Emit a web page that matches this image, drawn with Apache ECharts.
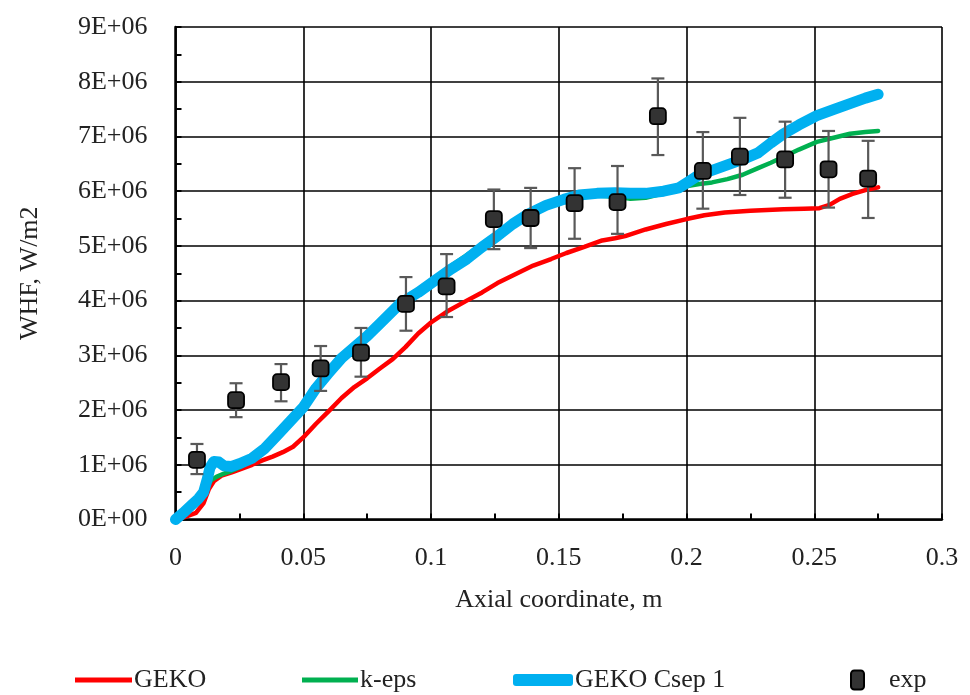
<!DOCTYPE html>
<html>
<head>
<meta charset="utf-8">
<script src="https://cdn.jsdelivr.net/npm/echarts@6/dist/echarts.min.js"></script>
<style>html,body{margin:0;padding:0;background:#fff;}#c{width:970px;height:695px;}</style>
</head>
<body>
<div id="c"></div>
<script>
// ---- data (y values in units of 1E+06 W/m2) ----
const xTickLabels = ['0','0.05','0.1','0.15','0.2','0.25','0.3'];
const yTickLabels = ['0E+00','1E+06','2E+06','3E+06','4E+06','5E+06','6E+06','7E+06','8E+06','9E+06'];
const seriesNames = ['GEKO','k-eps','GEKO Csep 1','exp'];

const gekoX = [0,0.004,0.008,0.011,0.013,0.015,0.018,0.022,0.026,0.030,0.034,0.038,0.042,0.046,0.050,0.055,0.060,0.065,0.070,0.075,0.080,0.085,0.090,0.095,0.100,0.107,0.114,0.120,0.126,0.133,0.140,0.147,0.153,0.160,0.167,0.172,0.176,0.184,0.192,0.200,0.207,0.215,0.225,0.238,0.246,0.252,0.256,0.260,0.265,0.270,0.275];
const gekoY = [0,0.05,0.12,0.30,0.55,0.70,0.80,0.86,0.93,1.00,1.08,1.15,1.23,1.33,1.50,1.75,1.98,2.22,2.42,2.58,2.76,2.93,3.15,3.40,3.60,3.82,4.00,4.15,4.32,4.48,4.64,4.76,4.87,4.98,5.10,5.14,5.18,5.30,5.40,5.49,5.56,5.61,5.64,5.67,5.68,5.69,5.75,5.86,5.95,6.02,6.07];

const kepsX = [0,0.003,0.006,0.009,0.011,0.0125,0.014,0.016,0.019,0.022,0.025,0.030,0.035,0.040,0.045,0.050,0.055,0.060,0.065,0.070,0.075,0.080,0.088,0.095,0.101,0.108,0.114,0.120,0.126,0.132,0.138,0.145,0.152,0.158,0.165,0.172,0.178,0.184,0.191,0.197,0.201,0.205,0.210,0.216,0.222,0.228,0.233,0.238,0.244,0.251,0.258,0.264,0.270,0.275];
const kepsY = [0,0.10,0.22,0.35,0.45,0.60,0.72,0.78,0.84,0.89,0.95,1.10,1.30,1.55,1.80,2.05,2.40,2.70,2.97,3.18,3.38,3.62,3.98,4.20,4.40,4.64,4.83,5.03,5.22,5.42,5.58,5.73,5.84,5.90,5.92,5.90,5.86,5.88,5.96,6.03,6.10,6.13,6.16,6.22,6.30,6.42,6.52,6.63,6.76,6.90,6.98,7.05,7.08,7.10];

const csepX = [0,0.003,0.006,0.009,0.011,0.0125,0.0135,0.015,0.017,0.019,0.022,0.025,0.030,0.035,0.040,0.045,0.050,0.055,0.060,0.065,0.070,0.075,0.080,0.088,0.095,0.101,0.108,0.114,0.120,0.126,0.132,0.138,0.145,0.152,0.158,0.165,0.172,0.178,0.184,0.191,0.197,0.201,0.205,0.210,0.216,0.222,0.228,0.233,0.238,0.244,0.251,0.258,0.264,0.270,0.275];
const csepY = [0,0.12,0.25,0.38,0.50,0.75,0.95,1.06,1.05,0.98,0.97,1.02,1.12,1.30,1.55,1.80,2.05,2.40,2.68,2.95,3.15,3.35,3.58,3.95,4.15,4.35,4.58,4.76,4.98,5.18,5.40,5.58,5.74,5.85,5.93,5.96,5.97,5.96,5.96,6.00,6.06,6.18,6.30,6.38,6.48,6.58,6.70,6.88,7.05,7.21,7.38,7.50,7.60,7.70,7.77];

const expX = [0.0084,0.0237,0.0413,0.0568,0.0726,0.0902,0.1061,0.1246,0.1390,0.1562,0.1730,0.1888,0.2064,0.2209,0.2386,0.2556,0.2711];
const expY = [1.09,2.18,2.51,2.76,3.05,3.94,4.26,5.49,5.51,5.78,5.80,7.37,6.37,6.63,6.58,6.40,6.23];
const expHigh = [1.38,2.49,2.84,3.17,3.50,4.43,4.85,6.03,6.06,6.42,6.46,8.06,7.08,7.34,7.27,7.10,6.92];
const expLow = [0.83,1.87,2.16,2.35,2.61,3.45,3.70,4.94,4.96,5.13,5.22,6.66,5.68,5.93,5.88,5.70,5.51];

// ---- chart ----
const FONT = '"Liberation Serif", "DejaVu Serif", serif';
const zip = (xs, ys) => xs.map((x, i) => [x, ys[i]]);
const chart = echarts.init(document.getElementById('c'), null, {renderer: 'canvas'});

const axisCommon = {
  axisLine: {show: true, onZero: false, lineStyle: {color: '#000', width: 2.5}},
  axisTick: {show: true, inside: true, length: 6, lineStyle: {color: '#000', width: 2}},
  minorTick: {show: true, splitNumber: 2, length: 6, lineStyle: {color: '#000', width: 2}},
  splitLine: {show: true, lineStyle: {color: '#000', width: 1.6}},
  axisLabel: {color: '#222', fontFamily: FONT, fontSize: 26},
  nameTextStyle: {color: '#222', fontFamily: FONT, fontSize: 26}
};

const legendBase = {
  orient: 'horizontal', top: 662, itemGap: 0,
  textStyle: {color: '#222', fontFamily: FONT, fontSize: 26, padding: [0, 0, 0, -3]}
};

chart.setOption({
  animation: false,
  backgroundColor: '#fff',
  grid: {left: 175.5, right: 28, top: 27, bottom: 175.5, containLabel: false},
  xAxis: Object.assign({}, axisCommon, {
    type: 'value', min: 0, max: 0.3, interval: 0.05,
    name: 'Axial coordinate, m', nameLocation: 'middle', nameGap: 68,
    axisLabel: Object.assign({}, axisCommon.axisLabel, {
      margin: 26,
      formatter: v => xTickLabels[Math.round(v / 0.05)]
    })
  }),
  yAxis: Object.assign({}, axisCommon, {
    type: 'value', min: 0, max: 9, interval: 1,
    name: 'WHF, W/m2', nameLocation: 'middle', nameGap: 132, nameRotate: 90,
    axisLabel: Object.assign({}, axisCommon.axisLabel, {
      margin: 28,
      formatter: v => yTickLabels[Math.round(v)]
    })
  }),
  legend: [
    Object.assign({}, legendBase, {left: 70, data: [{name: seriesNames[0], icon: 'rect'}], itemWidth: 57, itemHeight: 5}),
    Object.assign({}, legendBase, {left: 297, data: [{name: seriesNames[1], icon: 'rect'}], itemWidth: 56, itemHeight: 5}),
    Object.assign({}, legendBase, {left: 508, data: [{name: seriesNames[2], icon: 'roundRect'}], itemWidth: 60, itemHeight: 12}),
    Object.assign({}, legendBase, {left: 845, data: [{name: seriesNames[3], icon: 'roundRect'}], itemWidth: 13, itemHeight: 19,
      textStyle: Object.assign({}, legendBase.textStyle, {padding: [0, 0, 0, 20]})})
  ],
  series: [
    {
      name: seriesNames[0], type: 'line', data: zip(gekoX, gekoY), showSymbol: false, symbol: 'none',
      color: '#FF0000', lineStyle: {color: '#FF0000', width: 4.5, cap: 'round', join: 'round'}, z: 2
    },
    {
      name: seriesNames[1], type: 'line', data: zip(kepsX, kepsY), showSymbol: false, symbol: 'none',
      color: '#00B050', lineStyle: {color: '#00B050', width: 4.5, cap: 'round', join: 'round'}, z: 3
    },
    {
      name: seriesNames[2], type: 'line', data: zip(csepX, csepY), showSymbol: false, symbol: 'none',
      color: '#00B0F0', lineStyle: {color: '#00B0F0', width: 11, cap: 'round', join: 'round'}, z: 4
    },
    {
      name: 'exp-err', type: 'custom', z: 5,
      data: expX.map((x, i) => [x, expLow[i], expHigh[i]]),
      renderItem: function (params, api) {
        const lo = api.coord([api.value(0), api.value(1)]);
        const hi = api.coord([api.value(0), api.value(2)]);
        const hw = 6.5;
        const st = {stroke: '#595959', lineWidth: 2.2};
        return {
          type: 'group',
          children: [
            {type: 'line', shape: {x1: lo[0], y1: lo[1], x2: hi[0], y2: hi[1]}, style: st},
            {type: 'line', shape: {x1: lo[0] - hw, y1: lo[1], x2: lo[0] + hw, y2: lo[1]}, style: st},
            {type: 'line', shape: {x1: hi[0] - hw, y1: hi[1], x2: hi[0] + hw, y2: hi[1]}, style: st}
          ]
        };
      }
    },
    {
      name: seriesNames[3], type: 'scatter', data: zip(expX, expY), symbol: 'roundRect', symbolSize: 16, z: 6,
      color: '#333333',
      itemStyle: {color: '#333333', borderColor: '#000', borderWidth: 1.8, opacity: 1}
    }
  ]
});
</script>
</body>
</html>
